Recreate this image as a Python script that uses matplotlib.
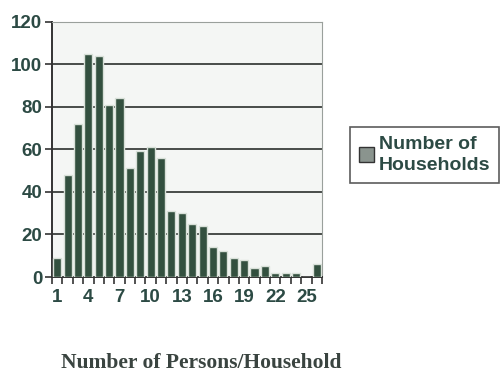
import matplotlib
matplotlib.use("Agg")
import matplotlib.pyplot as plt
import numpy as np

# Household size distribution
persons = list(range(1, 27))
households = [9, 48, 72, 105, 104, 81, 84, 51, 59, 61, 56, 31, 30, 25, 24,
              14, 12, 9, 8, 4, 5, 2, 2, 2, 0, 6]
tick_labels = ["1", "4", "7", "10", "13", "16", "19", "22", "25"]
y_ticks = [0, 20, 40, 60, 80, 100, 120]

text_color = "#2c4a44"

fig = plt.figure(figsize=(5.0, 3.74), dpi=100)
ax = fig.add_axes([52 / 500, 1 - 277 / 374, 270 / 500, (277 - 21.7) / 374])
ax.set_facecolor("#f4f6f4")

x = np.arange(len(persons))
ax.bar(x, households, width=0.78, color="#33503f", edgecolor="#d8e0d8",
       linewidth=1.0, zorder=3, label="Number of\nHouseholds")

ax.set_xlim(-0.5, len(persons) - 0.5)
ax.set_ylim(0, 120)
ax.set_yticks(y_ticks)
ax.set_yticklabels([str(v) for v in y_ticks])
ax.set_xticks([persons.index(int(t)) for t in tick_labels])
ax.set_xticklabels(tick_labels)
ax.set_xticks(np.arange(-0.5, len(persons)), minor=True)

ax.yaxis.grid(True, color="#3a3f3c", linewidth=1.3, zorder=1)
ax.set_axisbelow(True)

for lbl in ax.get_xticklabels() + ax.get_yticklabels():
    lbl.set_fontweight("bold")
    lbl.set_fontfamily("Liberation Sans")
    lbl.set_fontsize(13.5)
    lbl.set_color(text_color)

ax.tick_params(axis="y", direction="out", length=5, width=1.2, color="#333", pad=2)
ax.tick_params(axis="x", which="major", length=0, pad=9)
ax.tick_params(axis="x", which="minor", direction="out", length=5, width=1.2, color="#333")

ax.spines["left"].set_color("#333")
ax.spines["left"].set_linewidth(1.4)
ax.spines["bottom"].set_color("#333")
ax.spines["bottom"].set_linewidth(1.4)
ax.spines["top"].set_color("#9aa09c")
ax.spines["right"].set_color("#9aa09c")

leg = fig.legend(loc="upper left", bbox_to_anchor=(350 / 500, 1 - 127 / 374),
                 frameon=True, fancybox=False, handlelength=0.8, handleheight=0.8,
                 handletextpad=0.25, borderpad=0.45, borderaxespad=0,
                 prop={"family": "Liberation Sans", "weight": "bold", "size": 14})
leg.get_frame().set_edgecolor("#333")
leg.get_frame().set_linewidth(1.2)
for h in leg.legend_handles:
    h.set_facecolor("#8a948e")
    h.set_edgecolor("#333")
for t in leg.get_texts():
    t.set_color(text_color)
    t.set_linespacing(1.35)

fig.text(201 / 500, 1 - 363 / 374, "Number of Persons/Household",
         ha="center", va="center", fontfamily="Liberation Serif",
         fontweight="bold", fontsize=15.5, color="#3a4440")

fig.savefig("out.png", dpi=100)
